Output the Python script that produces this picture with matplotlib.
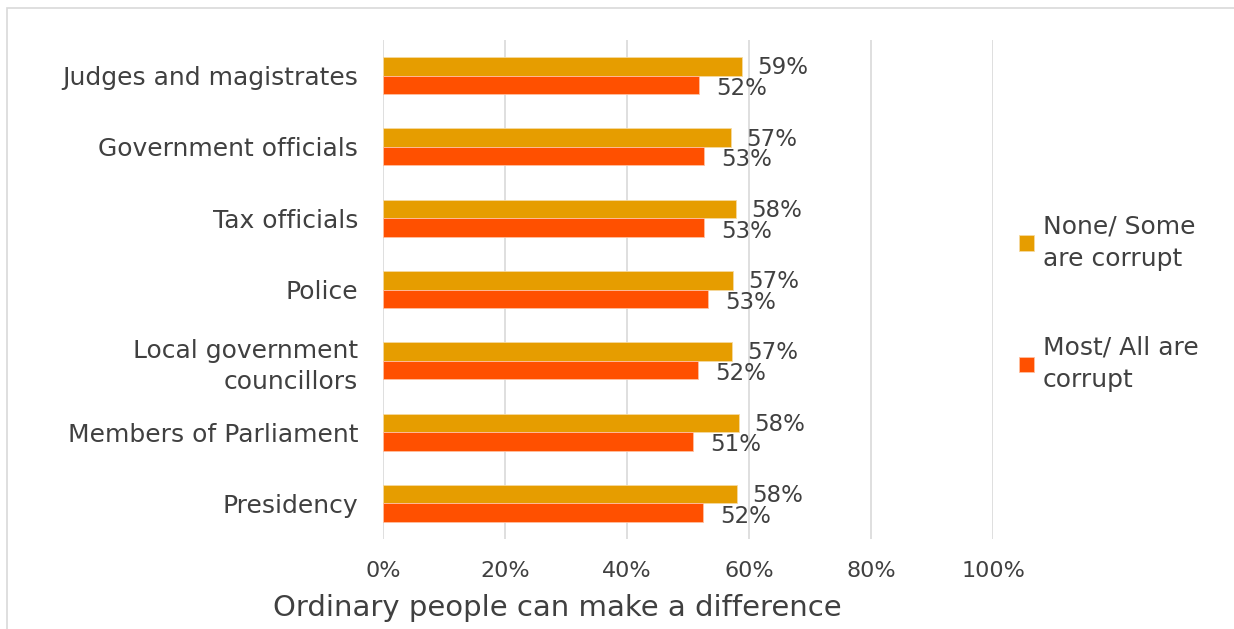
import matplotlib.pyplot as plt
from matplotlib.patches import Rectangle
import numpy as np

# ---------------------------------------------------------------------------
# Data
# ---------------------------------------------------------------------------
categories = [
    "Judges and magistrates",
    "Government officials",
    "Tax officials",
    "Police",
    "Local government\ncouncillors",
    "Members of Parliament",
    "Presidency",
]
none_some = [58.9, 57.1, 57.9, 57.3, 57.2, 58.4, 58.0]
most_all = [51.8, 52.7, 52.6, 53.3, 51.6, 50.9, 52.4]
none_labels = ["59%", "57%", "58%", "57%", "57%", "58%", "58%"]
most_labels = ["52%", "53%", "53%", "53%", "52%", "51%", "52%"]
x_ticks = [0, 20, 40, 60, 80, 100]

C_NONE = "#E69D00"
C_MOST = "#FF5000"
TXT = "#404040"

plt.rcParams["font.family"] = ["DejaVu Sans"]

fig = plt.figure(figsize=(12.34, 6.29), dpi=100)
ax = fig.add_axes([383 / 1234, 1 - 539 / 629, 610 / 1234, 499 / 629])

# chart frame
fig.patches.append(Rectangle((7 / 1234, -0.1), 1.2, 1 - 8 / 629 + 0.1,
                             transform=fig.transFigure, fill=False,
                             edgecolor="#d9d9d9", lw=1.2, zorder=0))

y = np.arange(len(categories))
h = 0.26
ax.barh(y - h / 2, none_some, height=h, color=C_NONE, edgecolor="#f5d9a0",
        lw=0.6, label="None/ Some\nare corrupt", zorder=3)
ax.barh(y + h / 2, most_all, height=h, color=C_MOST, edgecolor="#ffc0a0",
        lw=0.6, label="Most/ All are\ncorrupt", zorder=3)

# value labels (they crowd each other a little, as in the original)
for i in range(len(categories)):
    ax.text(none_some[i] + 2.5, y[i] - h / 2 + 0.02, none_labels[i],
            va="center", ha="left", fontsize=16.5, color=TXT, zorder=4)
    ax.text(most_all[i] + 2.8, y[i] + h / 2 + 0.05, most_labels[i],
            va="center", ha="left", fontsize=16.5, color=TXT, zorder=4)

ax.set_xlim(0, 100)
ax.set_ylim(len(categories) - 0.5, -0.5)
ax.set_xticks(x_ticks)
ax.set_xticklabels([f"{t}%" for t in x_ticks], fontsize=16, color=TXT)
ax.set_yticks(y)
ax.set_yticklabels(categories, fontsize=18, color=TXT, linespacing=1.35)
ax.tick_params(length=0, pad=18, axis="y")
ax.tick_params(length=0, pad=16, axis="x")
ax.grid(axis="x", color="#d9d9d9", lw=1.2, zorder=0)
for s in ax.spines.values():
    s.set_visible(False)

ax.set_xlabel("Ordinary people can make a difference", fontsize=21,
              color=TXT)
ax.xaxis.set_label_coords((557 - 383) / 610, -0.11)

leg = fig.legend(loc="upper left", bbox_to_anchor=(1019 / 1234, 1 - 214 / 629),
                 frameon=False, fontsize=18, labelspacing=2.6,
                 handlelength=0.6, handleheight=0.6, handletextpad=0.35,
                 borderaxespad=0, borderpad=0)
for t in leg.get_texts():
    t.set_color(TXT)
    t.set_linespacing(1.45)

fig.savefig("out.png", dpi=100)
